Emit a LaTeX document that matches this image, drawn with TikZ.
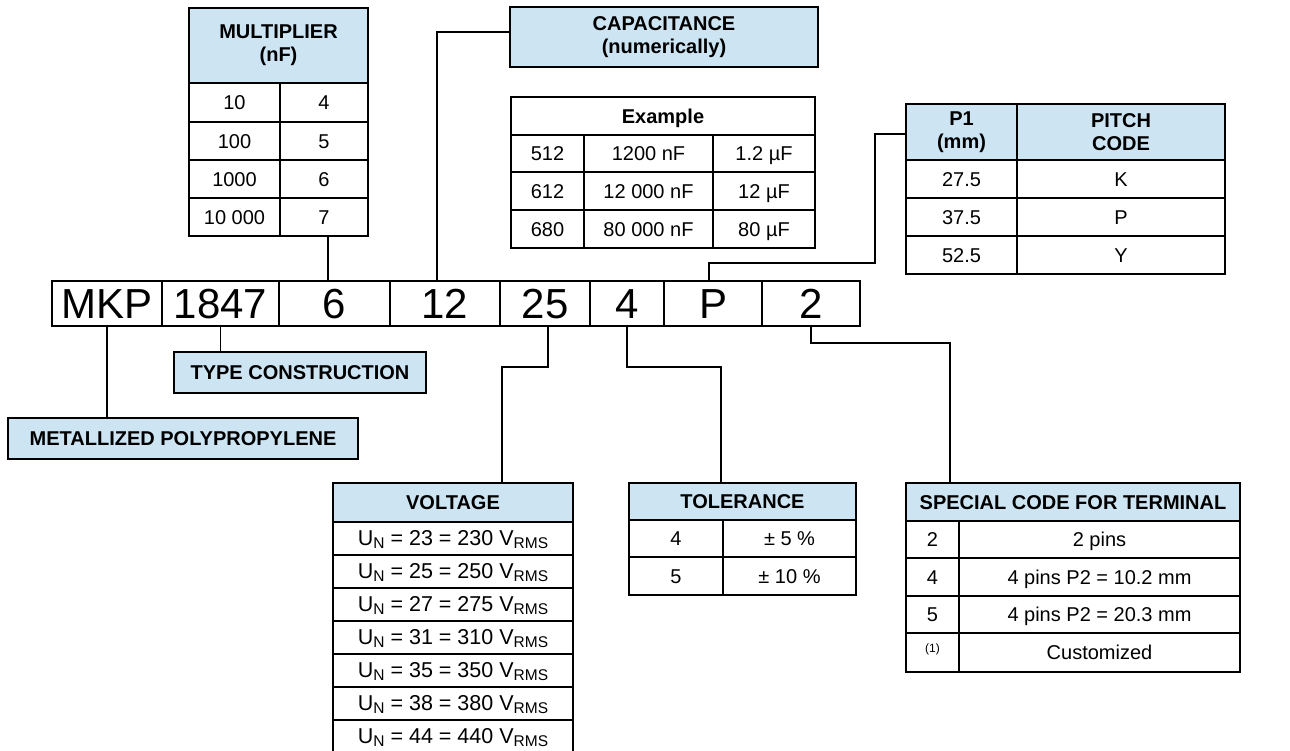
\documentclass[tikz,border=0pt]{standalone}
\usepackage{fontspec}
\setmainfont{Liberation Sans}
\definecolor{hdr}{RGB}{205,228,243}
\newcommand\lowtxt[1]{\raisebox{-2.5pt}{\fontsize{15.5}{15.5}\selectfont #1}}
\newcommand\hightxt[1]{\raisebox{0.7ex}{\fontsize{12}{12}\selectfont #1}}
\newcommand\cellbox[7]{\node[#2, minimum width={(#5-#3)*1pt}, minimum height={(#6-#4)*1pt}] (#1) at ({(#3+#5)/2},{(#4+#6)/2}) {#7};}
\newcommand\vrow[5]{\cellbox{#1}{vcell}{333}{#2}{573}{#3}{U\lowtxt{N} = #4 = #5 V\lowtxt{RMS}}}
\begin{document}
\begin{tikzpicture}[x=1pt,y=-1pt,
  cell/.style={draw, line width=1.6pt, inner sep=0pt, align=center, text height=14.3pt, text depth=0pt, font=\fontsize{20}{24}\selectfont},
  vcell/.style={cell, text height=14.5pt, font=\fontsize{21.5}{24}\selectfont},
  head/.style={cell, fill=hdr, font=\bfseries\fontsize{20}{24}\selectfont},
  headtwo/.style={draw, line width=1.6pt, inner sep=0pt, align=center, fill=hdr, font=\bfseries\fontsize{20}{23}\selectfont},
  plainhead/.style={cell, font=\bfseries\fontsize{20}{24}\selectfont},
  codecell/.style={cell, text height=30pt, font=\fontsize{42}{48}\selectfont},
  link/.style={line width=1.3pt}]
\useasboundingbox (0,0) rectangle (1290,751);

% Multiplier table
\cellbox{mh}{headtwo}{189}{8}{368}{83}{MULTIPLIER\\(nF)}
\cellbox{m1a}{cell}{189}{83}{280}{122}{10}
\cellbox{m1b}{cell}{280}{83}{368}{122}{4}
\cellbox{m2a}{cell}{189}{122}{280}{160}{100}
\cellbox{m2b}{cell}{280}{122}{368}{160}{5}
\cellbox{m3a}{cell}{189}{160}{280}{198}{1000}
\cellbox{m3b}{cell}{280}{160}{368}{198}{6}
\cellbox{m4a}{cell}{189}{198}{280}{236}{10 000}
\cellbox{m4b}{cell}{280}{198}{368}{236}{7}

% Capacitance
\cellbox{cap}{headtwo}{510}{7}{818}{67}{CAPACITANCE\\(numerically)}
\cellbox{exh}{plainhead}{511}{97}{815}{135}{Example}
\cellbox{e1a}{cell}{511}{135}{584}{172}{512}
\cellbox{e1b}{cell}{584}{135}{713}{172}{1200 nF}
\cellbox{e1c}{cell}{713}{135}{815}{172}{1.2 µF}
\cellbox{e2a}{cell}{511}{172}{584}{210}{612}
\cellbox{e2b}{cell}{584}{172}{713}{210}{12 000 nF}
\cellbox{e2c}{cell}{713}{172}{815}{210}{12 µF}
\cellbox{e3a}{cell}{511}{210}{584}{248}{680}
\cellbox{e3b}{cell}{584}{210}{713}{248}{80 000 nF}
\cellbox{e3c}{cell}{713}{210}{815}{248}{80 µF}

% Pitch
\cellbox{p1h}{headtwo}{906}{104}{1017}{160}{P1\\(mm)}
\cellbox{pch}{headtwo}{1017}{104}{1225}{160}{PITCH\\CODE}
\cellbox{p1a}{cell}{906}{160}{1017}{198}{27.5}
\cellbox{p1b}{cell}{1017}{160}{1225}{198}{K}
\cellbox{p2a}{cell}{906}{198}{1017}{236}{37.5}
\cellbox{p2b}{cell}{1017}{198}{1225}{236}{P}
\cellbox{p3a}{cell}{906}{236}{1017}{274}{52.5}
\cellbox{p3b}{cell}{1017}{236}{1225}{274}{Y}

% Code row
\cellbox{cMKP}{codecell}{52}{281}{162}{326}{MKP}
\cellbox{c1847}{codecell}{162}{281}{279}{326}{1847}
\cellbox{c6}{codecell}{279}{281}{390}{326}{6}
\cellbox{c12}{codecell}{390}{281}{500}{326}{12}
\cellbox{c25}{codecell}{500}{281}{590}{326}{25}
\cellbox{c4}{codecell}{590}{281}{664}{326}{4}
\cellbox{cP}{codecell}{664}{281}{762}{326}{P}
\cellbox{c2}{codecell}{762}{281}{860}{326}{2}

% Labels below
\cellbox{tc}{head}{174}{352}{426}{393}{TYPE CONSTRUCTION}
\cellbox{mp}{head}{8}{418}{358}{459}{METALLIZED POLYPROPYLENE}

% Voltage
\cellbox{vh}{head}{333}{483}{573}{522}{VOLTAGE}
\vrow{v1}{522}{555}{23}{230}
\vrow{v2}{555}{588}{25}{250}
\vrow{v3}{588}{621}{27}{275}
\vrow{v4}{621}{654}{31}{310}
\vrow{v5}{654}{687}{35}{350}
\vrow{v6}{687}{720}{38}{380}
\vrow{v7}{720}{753}{44}{440}

% Tolerance
\cellbox{th}{head}{629}{483}{856}{520}{TOLERANCE}
\cellbox{t1a}{cell}{629}{520}{723}{557}{4}
\cellbox{t1b}{cell}{723}{520}{856}{557}{± 5 \%}
\cellbox{t2a}{cell}{629}{557}{723}{595}{5}
\cellbox{t2b}{cell}{723}{557}{856}{595}{± 10 \%}

% Special code
\cellbox{sh}{head}{906}{483}{1240}{521}{SPECIAL CODE FOR TERMINAL}
\cellbox{s1a}{cell}{906}{521}{959}{558}{2}
\cellbox{s1b}{cell}{959}{521}{1240}{558}{2 pins}
\cellbox{s2a}{cell}{906}{558}{959}{596}{4}
\cellbox{s2b}{cell}{959}{558}{1240}{596}{4 pins P2 = 10.2 mm}
\cellbox{s3a}{cell}{906}{596}{959}{633}{5}
\cellbox{s3b}{cell}{959}{596}{1240}{633}{4 pins P2 = 20.3 mm}
\cellbox{s4a}{cell}{906}{633}{959}{672}{\hightxt{(1)}}
\cellbox{s4b}{cell}{959}{633}{1240}{672}{Customized}

% Connectors
\coordinate (k6) at (328,0);
\draw[link] (k6 |- m4b.south) -- (k6 |- c6.north);
\coordinate (k12) at (437,32);
\draw[link] (cap.west |- k12) -- (k12) -- (k12 |- c12.north);
\coordinate (kP) at (875,263);
\coordinate (kPx) at (709,0);
\draw[link] (kPx |- cP.north) -- (kPx |- kP) -- (kP) -- (kP |- 0,134) -- (p1h.west |- 0,134);
\coordinate (k25) at (502,367);
\coordinate (k25x) at (548,0);
\draw[link] (k25x |- c25.south) -- (k25x |- k25) -- (k25) -- (k25 |- vh.north);
\coordinate (k4) at (721,367);
\draw[link] (c4.south) |- (k4) -- (k4 |- th.north);
\coordinate (k2) at (950,343);
\draw[link] (c2.south) |- (k2) -- (k2 |- sh.north);
\draw[link] (c1847.south) -- (c1847.south |- tc.north);
\draw[link] (cMKP.south) -- (cMKP.south |- mp.north);
\end{tikzpicture}
\end{document}
